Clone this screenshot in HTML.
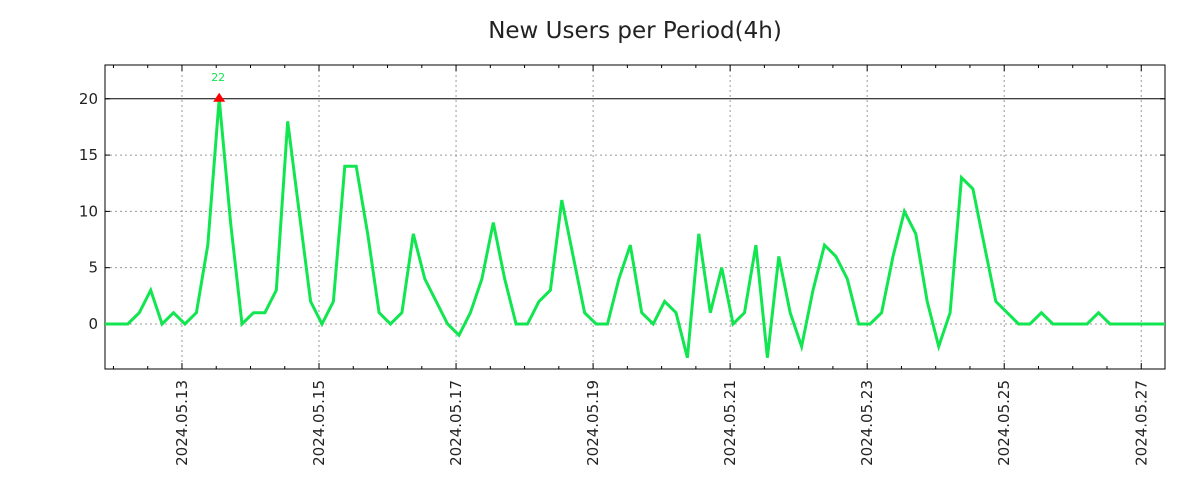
<!DOCTYPE html>
<html><head><meta charset="utf-8"><style>
body{margin:0;background:#fff;width:1200px;height:500px;overflow:hidden;font-family:"DejaVu Sans","Liberation Sans",sans-serif}
</style></head><body>
<svg id="chart" width="1200" height="500" xmlns="http://www.w3.org/2000/svg">
<text x="635" y="38" text-anchor="middle" font-size="23" fill="#222">New Users per Period(4h)</text>
<g id="grid"></g><g id="axes"></g><g id="series"></g>
</svg>
<script>
const values=[0,0,0,1,3,0,1,0,1,7,20,9,0,1,1,3,18,10,2,0,2,14,14,8,1,0,1,8,4,2,0,-1,1,4,9,4,0,0,2,3,11,6,1,0,0,4,7,1,0,2,1,-3,8,1,5,0,1,7,-3,6,1,-2,3,7,6,4,0,0,1,6,10,8,2,-2,1,13,12,7,2,1,0,0,1,0,0,0,0,1,0,0,0,0,0,0];
const dateLabels=["2024.05.13","2024.05.15","2024.05.17","2024.05.19","2024.05.21","2024.05.23","2024.05.25","2024.05.27"];
const dateIndex=[6.74,18.74,30.74,42.74,54.74,66.74,78.74,90.74];
const yTicks=[0,5,10,15,20];
const peakLabel="22";
const L=105,R=1165,T=65,B=369,yMin=-4,yMax=23,step=11.42;
const X=i=>L+i*step;
const Y=v=>B-(v-yMin)/(yMax-yMin)*(B-T);
const ns="http://www.w3.org/2000/svg";
function mk(tag,parent,attrs){const e=document.createElementNS(ns,tag);for(const k in attrs)e.setAttribute(k,attrs[k]);document.getElementById(parent).appendChild(e);return e;}
yTicks.forEach(v=>{
 const g=mk('line','grid',{x1:L,x2:R,y1:Y(v),y2:Y(v),stroke:v===20?'#000':'#999','stroke-dasharray':v===20?'':'2,3','stroke-width':1});
 
 
 mk('line','axes',{x1:L,x2:L+5,y1:Y(v),y2:Y(v),stroke:'#000'});
 mk('line','axes',{x1:R-5,x2:R,y1:Y(v),y2:Y(v),stroke:'#000'});
 const t=mk('text','axes',{x:L-7,y:Y(v)+5,'text-anchor':'end','font-size':15,fill:'#222'});t.textContent=v;
 
 
});
dateIndex.forEach((di,k)=>{
 const x=X(di);
 const g=mk('line','grid',{x1:x,x2:x,y1:T,y2:B,stroke:'#999','stroke-dasharray':'2,3'});
 
 
 const t=mk('text','axes',{transform:`translate(${x+5},${B+11}) rotate(-90)`,'text-anchor':'end','font-size':15,fill:'#222'});t.textContent=dateLabels[k];
 
 
});
for(let d=dateIndex[0]-6;d<=93;d+=3){const x=X(d);if(x<L||x>R)continue;const big=Math.abs(((d-dateIndex[0])%12+12)%12)<0.01;const h=big?6:3;
 mk('line','axes',{x1:x,x2:x,y1:B,y2:B-h,stroke:'#000'});mk('line','axes',{x1:x,x2:x,y1:T,y2:T+h,stroke:'#000'});}
const fr=mk('rect','axes',{x:L,y:T,width:R-L,height:B-T,fill:'none',stroke:'#000'});


const pts=values.map((v,i)=>X(i).toFixed(1)+','+Y(v).toFixed(1)).filter((p,i)=>X(i)<=R+12).join(' ');
const cp=mk('clipPath','series',{id:'cp'});const cr=document.createElementNS(ns,'rect');cr.setAttribute('x',L);cr.setAttribute('y',T);cr.setAttribute('width',R-L);cr.setAttribute('height',B-T);cp.appendChild(cr);
const line=mk('polyline','series',{points:pts,fill:'none',stroke:'#11e650','stroke-width':3,'clip-path':'url(#cp)'});


let mi=0;values.forEach((v,i)=>{if(v>values[mi])mi=i;});
const px=X(mi),py=Y(values[mi]);
const tri=mk('polygon','series',{points:`${px-6},${py+3} ${px+6},${py+3} ${px},${py-6}`,fill:'#f00'});


const pl=mk('text','series',{x:px-1,y:py-18,'text-anchor':'middle','font-size':11,fill:'#11e650'});pl.textContent=peakLabel;


</script>
</body></html>
